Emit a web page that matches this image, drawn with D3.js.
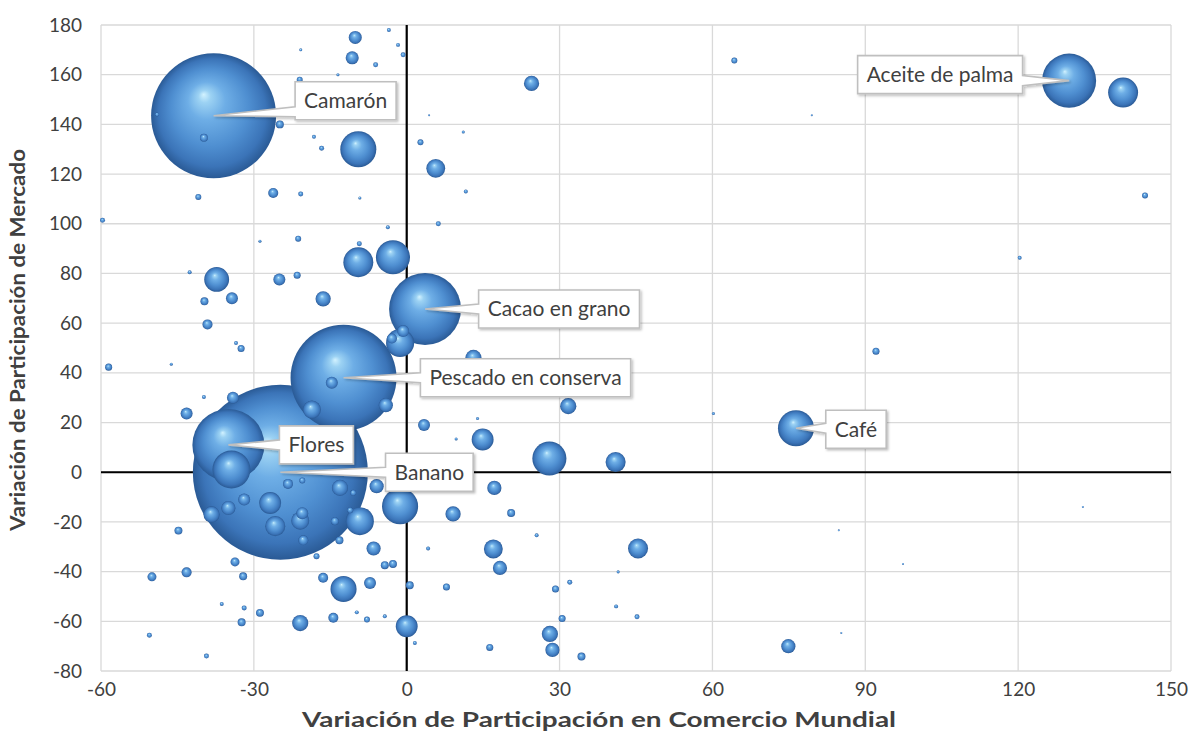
<!DOCTYPE html>
<html><head><meta charset="utf-8">
<script src="https://cdn.jsdelivr.net/npm/d3@7"></script>
<style>
body{margin:0;background:#fff}
svg{display:block;font-family:Lato,"Open Sans",sans-serif}
</style>
</head><body>
<svg id="chart" width="1193" height="749"></svg>
<script>
// Productos con etiqueta (el resto queda sin nombre)
const productos = ["Banano","Camarón","Pescado en conserva","Cacao en grano","Flores","Aceite de palma","Café"];

// Variación de participación en comercio mundial (eje X)
const comercioMundial = [
  -24.8,-37.9,-12.4,3.6,-35,130,76.4,
  140.6,-34.4,-1.3,28,-2.7,-9.5,-9.5,-1.3,-9.2,-12.4,-37.3,-26.8,0,14.9,-25.8,41,45.4,17,5.7,-18.6,-20.9,
  -38.3,-13.1,31.7,13.1,-20.9,28.1,-16.4,24.5,9.1,-35,-5.9,-6.5,-4.1,17.2,18.3,28.6,74.9,-10.1,-10.7,
  -25,-34.3,-34.1,-43.2,-14.7,-31.9,-7.2,-0.7,3.4,-20.5,-2.9,-39.1,-26.2,-23.3,-20.3,-16.4,-14.4,-43.2,
  -50,-33.7,-39.7,-39.8,-24.9,-44.8,-14.1,-13.2,-4.3,-2.7,-32.1,-28.8,-32.4,20.5,-21.5,-32.5,-58.5,7.8,
  29.2,30.5,16.3,34.3,-40.9,-21,-21.3,64.3,2.7,-11.1,-17.7,-10.5,0.6,-7.8,144.9,92.1,-0.7,-6.1,-20.8,
  -59.7,-9.3,-16.7,6.2,-31.9,-50.5,-39.3,32,45.2,-20.5,-3.5,-1.7,-18.2,-3.7,-42.6,-33.5,-39.8,-36.3,
  -4.3,-9.8,11.6,120.3,4.2,41.1,1.6,25.5,-13.5,-28.8,-9.2,-20.8,11.1,-46.2,13.9,9.7,60.2,41.5,4.4,
  79.5,132.7,84.8,97.4,85.3,-49
];

// Variación de participación de mercado (eje Y)
const participacionMercado = [
  0,143.5,38,65.7,11,157.6,17.7,
  152.8,1.1,-13.7,5.5,86.5,84.5,130,52,-19.7,-47,77.6,-12.4,-62,13.2,-21.7,4.1,-30.7,-30.9,122.3,25.2,-19.5,
  -17,-6.3,26.6,46,-60.7,-65.1,69.8,156.5,-16.8,-14.4,-5.6,-30.7,27,-6.3,-38.5,-71.5,-70,175,166.8,
  77.6,70,30,23.6,36,-11,-44.6,56.8,19,-16.5,53.8,59.5,112.4,-4.7,-27.4,-42.5,-58.6,-40.3,
  -42.1,-36.1,68.8,134.6,140,-23.5,-19.7,-27.4,-37.4,-36.9,-41.9,-56.6,-60.4,-16.4,79.3,49.8,42.3,-46.2,
  -47,-58.9,-70.5,-74.2,110.8,158,94,165.7,132.8,-15.3,-33.8,-8.3,-45.5,-59.3,111.4,48.7,168,164,112,
  101.4,92,130.4,100,-54.6,-65.6,-74,-44.3,-58.2,-3.3,178,172,135,98.6,80.5,52,30.3,-53,
  -58,-56.4,113,86.3,-30.7,-54,-68.7,-25.4,160,93,110.4,170,136.9,43.5,21.6,13.4,23.6,-40.1,143.7,
  143.7,-14,-23.4,-36.9,-64.7,144
];

// Valor exportado (tamaño de la burbuja)
const valorExportado = [
  1980,1010,726,335,335,189,84,
  58,93,84,75,75,58,84,51,51,44,40,31,31,31,26,26,26,23,23,21,21,
  17,17,17,17,17,17,15,15,15,13,13,13,13,13,13,13,13,11,11,
  9.3,9.3,9.3,9.3,9.3,9.3,9.3,9.3,9.3,9.3,6.5,6.5,6.5,6.5,6.5,6.5,6.5,6.5,
  5.2,5.2,4.1,4.1,4.1,4.1,4.1,4.1,4.1,4.1,4.1,4.1,4.1,4.1,3.2,3.2,3.2,3.2,
  3.2,3.2,3.2,4.1,2.3,2.3,2.3,2.3,2.3,2.3,2.3,2.3,4.1,2.3,2.3,3.2,1.6,1.6,1.6,
  1.6,1.6,1.6,1.6,1.6,1.6,1.6,1.6,1.6,2.3,1,1,1,1,1,1,1,1,
  1,1,1,1,1,1,1,1,0.6,0.6,0.6,0.6,0.6,0.6,0.6,0.6,0.6,0.6,0.26,
  0.26,0.26,0.26,0.26,0.26,1
];

const ticksX = [-60,-30,0,30,60,90,120,150];
const ticksY = [-80,-60,-40,-20,0,20,40,60,80,100,120,140,160,180];

const tituloX = "Variación de Participación en Comercio Mundial";
const tituloY = "Variación de Participación de Mercado";

// Desplazamiento (px) del centro de cada etiqueta respecto a su burbuja
const posEtiqueta = {
  "Banano": [149, 0],
  "Camarón": [132, -15],
  "Pescado en conserva": [182, 0],
  "Cacao en grano": [134, 0],
  "Flores": [88, 0],
  "Aceite de palma": [-129, -6],
  "Café": [60, 1]
};

const svg = d3.select("#chart");
const L = 101, R = 1171, T = 25, B = 671;

const x = d3.scaleLinear().domain([-60, 150]).range([L, R]);
const y = d3.scaleLinear().domain([-80, 180]).range([B, T]);
const r = d3.scaleSqrt().domain([0, d3.max(valorExportado)]).range([0, 87.5]);

// Gradiente esférico de las burbujas
const defs = svg.append("defs");
const g1 = defs.append("radialGradient").attr("id", "esfera")
  .attr("cx", 0.5).attr("cy", 0.5).attr("r", 0.5).attr("fx", 0.42).attr("fy", 0.33);
[[0, "#d2f2ff"], [0.1, "#9cd2f3"], [0.3, "#6eaee6"], [0.62, "#4f8fd1"], [0.86, "#3b74b8"], [1, "#2a5a95"]]
  .forEach(([o, c]) => g1.append("stop").attr("offset", o).attr("stop-color", c));

const sombra = defs.append("filter").attr("id", "sombra").attr("x", -0.1).attr("y", -0.2).attr("width", 1.3).attr("height", 1.5);
sombra.append("feDropShadow").attr("dx", 1.5).attr("dy", 1.5).attr("stdDeviation", 1.2)
  .attr("flood-color", "#000").attr("flood-opacity", 0.25);

// Cuadrícula
const grid = svg.append("g");
grid.selectAll(".gx").data(ticksX).join("line")
  .attr("x1", d => x(d)).attr("x2", d => x(d)).attr("y1", T).attr("y2", B)
  .attr("stroke", "#d9d9d9").attr("stroke-width", 1.3);
grid.selectAll(".gy").data(ticksY).join("line")
  .attr("x1", L).attr("x2", R).attr("y1", d => y(d)).attr("y2", d => y(d))
  .attr("stroke", "#d9d9d9").attr("stroke-width", 1.3);

// Ejes en cero
svg.append("line").attr("x1", L).attr("x2", R).attr("y1", y(0)).attr("y2", y(0))
  .attr("stroke", "#000").attr("stroke-width", 2.2);
svg.append("line").attr("x1", x(0)).attr("x2", x(0)).attr("y1", T).attr("y2", B)
  .attr("stroke", "#000").attr("stroke-width", 2.2);

// Etiquetas de los ejes (con guion simple como signo negativo)
const fmt = d => String(d);
const axX = d3.axisBottom(x).tickValues(ticksX).tickFormat(fmt).tickSize(0).tickPadding(12);
svg.append("g").attr("transform", `translate(0,${B})`).call(axX)
  .call(g => g.select(".domain").remove())
  .selectAll("text").attr("font-family", "Lato, sans-serif").attr("font-size", 19).attr("fill", "#404040");

const axY = d3.axisLeft(y).tickValues(ticksY).tickFormat(fmt).tickSize(0).tickPadding(19);
svg.append("g").attr("transform", `translate(${L},0)`).call(axY)
  .call(g => g.select(".domain").remove())
  .selectAll("text").attr("font-family", "Lato, sans-serif").attr("font-size", 19).attr("fill", "#404040");

svg.append("text").attr("x", 599).attr("y", 727).attr("text-anchor", "middle")
  .attr("font-size", 20).attr("font-weight", 700).attr("fill", "#404040")
  .attr("textLength", 594).attr("lengthAdjust", "spacingAndGlyphs").text(tituloX);
svg.append("text").attr("transform", `translate(25,340) rotate(-90)`).attr("text-anchor", "middle")
  .attr("font-size", 20).attr("font-weight", 700).attr("fill", "#404040")
  .attr("textLength", 382).attr("lengthAdjust", "spacingAndGlyphs").text(tituloY);

// Burbujas: grandes primero para que las pequeñas queden visibles
const datos = valorExportado.map((v, i) => ({
  nombre: productos[i] || "",
  cx: comercioMundial[i], cy: participacionMercado[i], v
})).sort((a, b) => b.v - a.v);

svg.append("g").selectAll("circle").data(datos).join("circle")
  .attr("cx", d => x(d.cx)).attr("cy", d => y(d.cy)).attr("r", d => Math.max(r(d.v), 0.8))
  .attr("fill", "url(#esfera)");

// Etiquetas tipo globo con cuña hacia la burbuja
const capa = svg.append("g");
datos.filter(d => d.nombre).forEach(d => {
  const px = x(d.cx), py = y(d.cy);
  const [dx, dy] = posEtiqueta[d.nombre];
  const cxL = px + dx, cyL = py + dy;
  const g = capa.append("g");
  const t = g.append("text").attr("x", cxL).attr("y", cyL).attr("dy", "0.35em")
    .attr("text-anchor", "middle").attr("font-size", 21).attr("fill", "#404040").text(d.nombre);
  const w = t.node().getComputedTextLength() + 18, h = 38;
  const x0 = cxL - w / 2, x1 = cxL + w / 2, y0 = cyL - h / 2, y1 = cyL + h / 2;
  const by = Math.max(y0 + 8, Math.min(y1 - 8, py));
  let p;
  if (px < x0) {
    p = `M${x0},${y0}L${x1},${y0}L${x1},${y1}L${x0},${y1}L${x0},${by + 5}L${px},${py}L${x0},${by - 5}Z`;
  } else {
    p = `M${x0},${y0}L${x1},${y0}L${x1},${by - 5}L${px},${py}L${x1},${by + 5}L${x1},${y1}L${x0},${y1}Z`;
  }
  g.insert("path", "text").attr("d", p).attr("fill", "#fff").attr("stroke", "#bfbfbf")
    .attr("stroke-width", 1.6).attr("filter", "url(#sombra)");
});
</script>
</body></html>
